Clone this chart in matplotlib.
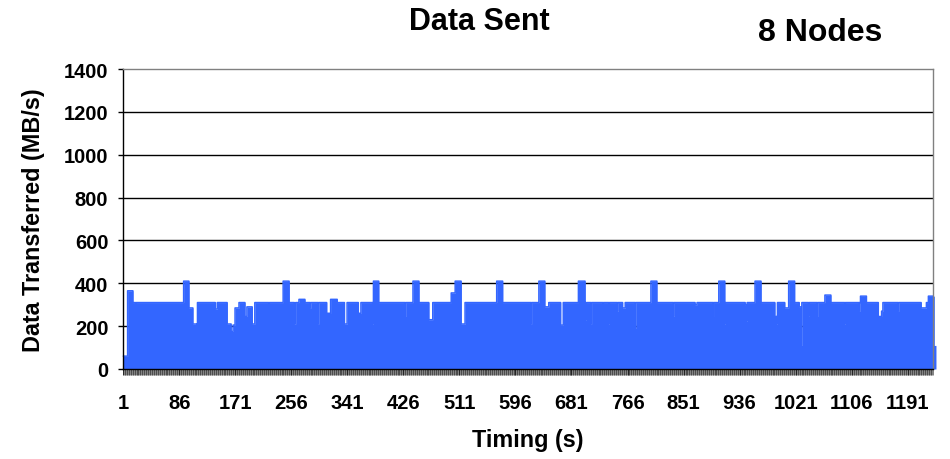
import numpy as np
import matplotlib
matplotlib.use("Agg")
import matplotlib.pyplot as plt

# Data: the line is so dense it looks filled, so keep its
# upper envelope as runs (start second, level in MB/s) plus single-second dips
seg_start = [1, 8, 16, 93, 101, 107, 113, 141, 144, 159, 165, 168, 171, 177,
             186, 189, 197, 201, 244, 253, 261, 263, 268, 277, 310, 316, 326,
             337, 341, 358, 362, 381, 389, 441, 450, 465, 471, 499, 505, 514,
             520, 568, 577, 632, 641, 647, 665, 669, 692, 702, 759, 763, 802,
             811, 869, 872, 905, 914, 945, 948, 960, 969, 990, 993, 1005, 1011,
             1020, 1027, 1030, 1066, 1075, 1120, 1129, 1147, 1152, 1154, 1212,
             1220, 1223, 1232]
seg_value = [60, 365, 310, 410, 285, 210, 310, 280, 310, 210, 175, 205, 285, 310,
             245, 290, 210, 310, 410, 310, 210, 310, 325, 310, 260, 325, 310,
             210, 310, 260, 310, 410, 310, 410, 310, 230, 310, 355, 410, 210,
             310, 410, 310, 410, 290, 310, 205, 310, 410, 310, 285, 310, 410,
             310, 300, 310, 410, 310, 300, 310, 410, 310, 245, 310, 285, 410,
             310, 290, 310, 345, 310, 340, 310, 245, 270, 310, 285,
             310, 340, 110]
notch_t = [20, 113, 222, 285, 297, 380, 429, 620, 703, 711, 729, 738, 751, 778,
           836, 896, 914, 947, 993, 1030, 1041, 1054, 1096, 1118, 1177]
notch_v = [245, 124, 245, 285, 210, 210, 245, 210, 230, 210, 245, 210, 270, 190,
           245, 245, 210, 225, 210, 110, 245, 245, 210, 270, 270]
n_points = 1234

tick_seconds = list(range(1, 1192, 85))
y_ticks = list(range(0, 1401, 200))

# Build the series
lengths = np.diff(seg_start + [n_points + 1])
sent = np.repeat(seg_value, lengths).astype(float)
for t, v in zip(notch_t, notch_v):
    sent[t - 1] = v
seconds = np.arange(1, n_points + 1)

plt.rcParams['font.family'] = ['Liberation Sans', 'DejaVu Sans']
plt.rcParams['font.weight'] = 'bold'

fig = plt.figure(figsize=(9.5, 4.6), dpi=100)
ax = fig.add_axes([123 / 950, 1 - 370 / 460, 810 / 950, 300 / 460])

blue = '#3366FF'
fill = ax.fill_between(seconds, sent, step='mid', color=blue, lw=0, zorder=3)
fill.set_clip_on(False)
edge, = ax.step(seconds, sent, where='mid', color=blue, lw=1.1,
                solid_joinstyle='round', solid_capstyle='round', zorder=3)
edge.set_clip_on(False)

ax.set_xlim(0.5, 1229.5)
ax.set_ylim(0, 1400)
ax.set_yticks(y_ticks)
ax.set_xticks(tick_seconds)
ax.set_xticks(seconds[:1229], minor=True)

# horizontal grid lines
for y in y_ticks[1:-1]:
    ax.axhline(y, color='black', lw=1, zorder=1)

for side in ['top', 'right']:
    ax.spines[side].set_color('#808080')
for side in ['left', 'bottom']:
    ax.spines[side].set_color('black')
for s in ax.spines.values():
    s.set_linewidth(1)
    s.set_zorder(4)

ax.tick_params(axis='y', direction='out', length=3.6, width=1, pad=7,
               labelsize=14.5)
ax.tick_params(axis='x', which='major', direction='out', length=4, width=0.6,
               pad=13, labelsize=14.5)
ax.tick_params(axis='x', which='minor', direction='out', length=4, width=0.4,
               color='#222222')
for lab in ax.get_xticklabels() + ax.get_yticklabels():
    lab.set_fontweight('bold')

ax.set_ylabel('Data Transferred (MB/s)', fontsize=16.8, fontweight='bold')
ax.yaxis.set_label_coords(-(123 - 45) / 810, 0.5)
ax.set_xlabel('Timing (s)', fontsize=16.8, fontweight='bold')
ax.xaxis.set_label_coords(0.5, -(429 - 370) / 300)

fig.text(479 / 950, 1 - 22 / 460, 'Data Sent', ha='center', va='center',
         fontsize=22, fontweight='bold')
fig.text(820 / 950, 1 - 33 / 460, '8 Nodes', ha='center', va='center',
         fontsize=23, fontweight='bold')

fig.savefig('out.png', dpi=100)
